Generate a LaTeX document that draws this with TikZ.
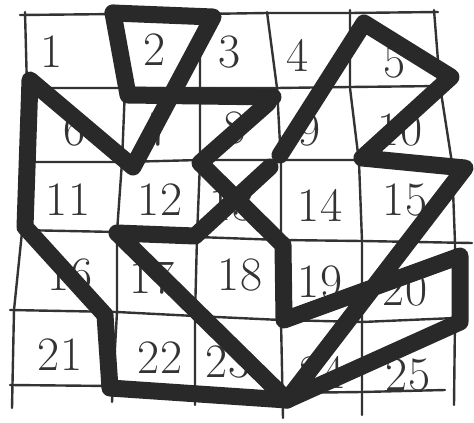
\documentclass[tikz,border=0pt]{standalone}
\begin{document}
\begin{tikzpicture}[x=1pt,y=-1pt,
  gridline/.style={line width=2.4pt, black!80, line cap=round, line join=round},
  pen/.style={line width=17pt, black!84, line cap=round, line join=round},
  num/.style={font=\fontsize{48}{48}\selectfont, text=black!80, inner sep=0pt}]
\useasboundingbox (0,0) rectangle (474,423);
% ---- hand-drawn grid: rows ----
\draw[gridline] (20,15) -- (118,14) -- (200,14) -- (267,13) -- (350,13) -- (438,12);
\draw[gridline] (27,88) -- (125,88) -- (200,88) -- (277,88) -- (350,87) -- (442,86);
\draw[gridline] (27,162) -- (122,162) -- (200,160) -- (281,160) -- (359,160) -- (454,163);
\draw[gridline] (18,230) -- (117,232) -- (197,237) -- (281,240) -- (362,241) -- (472,243);
\draw[gridline] (10,310) -- (117,312) -- (195,316) -- (281,320) -- (362,322) -- (455,318);
\draw[gridline] (10,385) -- (112,386) -- (195,390) -- (281,393) -- (362,392) -- (445,390);
% ---- columns ----
\draw[gridline] (25,12) -- (27,88) -- (27,162) -- (22,232) -- (14,310) -- (12,408);
\draw[gridline] (118,12) -- (125,88) -- (122,162) -- (117,232) -- (117,312) -- (112,402);
\draw[gridline] (200,12) -- (200,88) -- (200,162) -- (197,237) -- (195,316) -- (195,405);
\draw[gridline] (267,12) -- (277,88) -- (281,162) -- (281,240) -- (281,320) -- (283,418);
\draw[gridline] (350,10) -- (350,88) -- (359,162) -- (362,241) -- (362,322) -- (362,415);
\draw[gridline] (434,10) -- (440,86) -- (452,163) -- (455,243) -- (455,318) -- (454,405);
% ---- numbers ----
\node[num] (n1) at (52,52) {1};
\node[num] (n2) at (155,50) {2};
\node[num] (n3) at (230,52) {3};
\node[num] (n4) at (298,55) {4};
\node[num] (n5) at (395,62) {5};
\node[num] (n6) at (75,130) {6};
\node[num] (n7) at (160,130) {7};
\node[num] (n8) at (235,128) {8};
\node[num] (n9) at (310,130) {9};
\node[num] (n10) at (400,130) {10};
\node[num] (n11) at (68,200) {11};
\node[num] (n12) at (160,200) {12};
\node[num] (n13) at (232,205) {13};
\node[num] (n14) at (320,205) {14};
\node[num] (n15) at (405,200) {15};
\node[num] (n16) at (70,275) {16};
\node[num] (n17) at (152,278) {17};
\node[num] (n18) at (240,275) {18};
\node[num] (n19) at (320,282) {19};
\node[num] (n20) at (405,290) {20};
\node[num] (n21) at (60,355) {21};
\node[num] (n22) at (160,358) {22};
\node[num] (n23) at (228,362) {23};
\node[num] (n24) at (322,372) {24};
\node[num] (n25) at (408,375) {25};
% ---- path points ----
\coordinate (pA) at (30,80);
\coordinate (pV) at (133,167);
\coordinate (pTR) at (213,17);
\coordinate (pTL) at (113,13);
\coordinate (pBL) at (128,95);
\coordinate (pH) at (273,97);
\coordinate (p8) at (268,103);
\coordinate (pX) at (200,163);
\coordinate (pXb) at (283,245);
\coordinate (pXc) at (270,167);
\coordinate (pXd) at (195,236);
\coordinate (p17) at (117,233);
\coordinate (pL) at (25,227);
\coordinate (p16) at (105,315);
\coordinate (p22) at (110,388);
\coordinate (pB) at (287,400);
\coordinate (p19) at (284,320);
\coordinate (pR1) at (460,256);
\coordinate (pR2) at (460,322);
\coordinate (p15) at (465,168);
\coordinate (p10) at (362,158);
\coordinate (p5) at (451,77);
\coordinate (pT) at (364,23);
\coordinate (p9) at (280,155);
% ---- thick strokes ----
\draw[pen] (pTL) -- (pTR) -- (pV) -- (pA) -- (pL) -- (p16) -- (p22) -- (pB);
\draw[pen] (pTL) -- (pBL) -- (pH);
\draw[pen] (p8) -- (pX) -- (pXb) -- (p19) -- (pR1) -- (pR2) -- (pB) -- (p15) -- (p10) -- (p5) -- (pT) -- (p9);
\draw[pen] (pXc) -- (pXd) -- (p17) -- (pB);
\end{tikzpicture}
\end{document}
